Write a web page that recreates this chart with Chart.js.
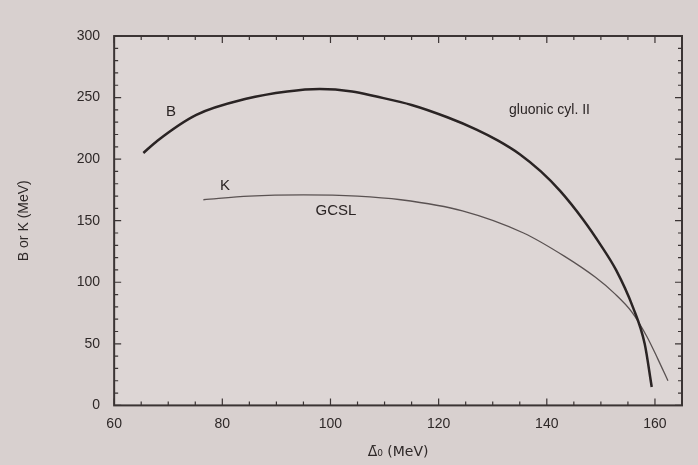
<!DOCTYPE html>
<html>
<head>
<meta charset="utf-8">
<script src="https://cdn.jsdelivr.net/npm/chart.js@4.4.1/dist/chart.umd.min.js"></script>
<style>
  html, body { margin: 0; padding: 0; background: #d8d0cf; }
  #wrap { width: 698px; height: 465px; }
</style>
</head>
<body>
<div id="wrap"><canvas id="c" width="698" height="465"></canvas></div>
<script>
// Curve B (gluonic cyl. II)
const bX = [65.4, 68.0, 75.2, 84.4, 92, 98, 104, 108.3, 115, 121.6, 127, 131, 135, 138.9, 142.5, 146.7, 150, 152.8, 155.9, 158.1, 159.4];
const bY = [205, 215, 236, 249, 255, 257, 255, 251, 244, 234, 224, 215, 204, 190, 174, 151, 130, 110, 80, 50, 15];
// Curve K (GCSL)
const kX = [76.5, 85, 95, 105, 113, 124.4, 135.7, 143.3, 149, 152.5, 155.7, 158.5, 160.5, 162.4];
const kY = [167, 170, 171, 170, 167, 158, 140, 121, 104, 91, 76, 56, 38, 20];
const xTicks = [60, 80, 100, 120, 140, 160];
const yTicks = [0, 50, 100, 150, 200, 250, 300];
const labels = [
  { text: 'B', x: 70.5, y: 238, size: 15 },
  { text: 'K', x: 80.5, y: 178, size: 15 },
  { text: 'GCSL', x: 101, y: 158, size: 15 },
  { text: 'gluonic cyl. II', x: 140.5, y: 240, size: 14 }
];

const ink = '#3b3434';
const fontFam = '"Liberation Sans", Arial, sans-serif';

const framePlugin = {
  id: 'frame',
  afterDatasetsDraw(chart) {
    const { ctx, chartArea: a, scales: { x, y } } = chart;
    ctx.save();
    ctx.strokeStyle = ink;
    ctx.lineWidth = 2;
    ctx.strokeRect(a.left, a.top, a.right - a.left, a.bottom - a.top);
    ctx.lineWidth = 1.2;
    for (let v = 60; v <= 165; v += 5) {
      const px = x.getPixelForValue(v);
      const len = (v % 20 === 0) ? 7 : 4;
      ctx.beginPath();
      ctx.moveTo(px, a.bottom); ctx.lineTo(px, a.bottom - len);
      ctx.moveTo(px, a.top); ctx.lineTo(px, a.top + len);
      ctx.stroke();
    }
    for (let v = 0; v <= 300; v += 10) {
      const py = y.getPixelForValue(v);
      const len = (v % 50 === 0) ? 7 : 4;
      ctx.beginPath();
      ctx.moveTo(a.left, py); ctx.lineTo(a.left + len, py);
      ctx.moveTo(a.right, py); ctx.lineTo(a.right - len, py);
      ctx.stroke();
    }
    ctx.fillStyle = '#2a2424';
    ctx.textAlign = 'center';
    ctx.textBaseline = 'middle';
    labels.forEach(l => {
      ctx.font = l.size + 'px ' + fontFam;
      ctx.fillText(l.text, x.getPixelForValue(l.x), y.getPixelForValue(l.y));
    });
    ctx.restore();
  }
};

const bgPlugin = {
  id: 'bg',
  beforeDraw(chart) {
    const { ctx, chartArea: a } = chart;
    ctx.save();
    ctx.fillStyle = '#d8d0cf';
    ctx.fillRect(0, 0, chart.width, chart.height);
    ctx.fillStyle = '#ddd6d5';
    ctx.fillRect(a.left, a.top, a.right - a.left, a.bottom - a.top);
    ctx.restore();
  }
};

new Chart(document.getElementById('c'), {
  type: 'scatter',
  data: {
    datasets: [
      {
        label: 'B',
        data: bX.map((v, i) => ({ x: v, y: bY[i] })),
        showLine: true, borderColor: '#2a2424', borderWidth: 2.5,
        pointRadius: 0, cubicInterpolationMode: 'monotone', fill: false
      },
      {
        label: 'K',
        data: kX.map((v, i) => ({ x: v, y: kY[i] })),
        showLine: true, borderColor: '#5a5252', borderWidth: 1.3,
        pointRadius: 0, cubicInterpolationMode: 'monotone', fill: false
      }
    ]
  },
  options: {
    responsive: false,
    animation: false,
    layout: { padding: { left: 16, right: 16, top: 36, bottom: 4 } },
    plugins: { legend: { display: false }, tooltip: { enabled: false } },
    scales: {
      x: {
        type: 'linear', min: 60, max: 165,
        afterBuildTicks(s) { s.ticks = xTicks.map(v => ({ value: v })); },
        grid: { display: false, drawTicks: false },
        border: { display: false },
        ticks: { color: '#2e2828', padding: 10, font: { size: 14, family: fontFam } },
        title: { display: true, text: 'Δ̄₀ (MeV)', color: '#2e2828', padding: { top: 2, bottom: 0 },
                 font: { size: 14, family: '"DejaVu Sans", sans-serif' } }
      },
      y: {
        type: 'linear', min: 0, max: 300,
        afterBuildTicks(s) { s.ticks = yTicks.map(v => ({ value: v })); },
        grid: { display: false, drawTicks: false },
        border: { display: false },
        ticks: { color: '#2e2828', padding: 14, font: { size: 14, family: fontFam } },
        title: { display: true, text: 'B or K (MeV)', color: '#2e2828', padding: { top: 0, bottom: 30 },
                 font: { size: 14, family: fontFam } }
      }
    }
  },
  plugins: [bgPlugin, framePlugin]
});
</script>
</body>
</html>
